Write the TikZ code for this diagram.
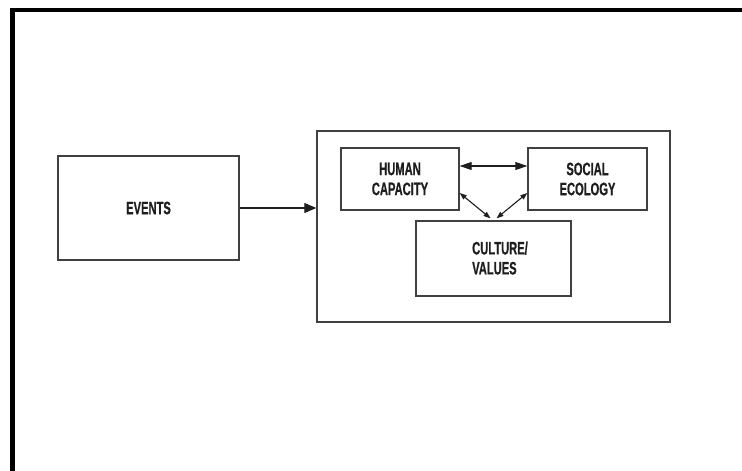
\documentclass[tikz,border=0pt]{standalone}
\usepackage{fontspec}
\newfontfamily\labelfont[FakeStretch=0.62,FakeBold=0.6]{Liberation Sans Bold}
\usetikzlibrary{arrows.meta}
\definecolor{boxline}{HTML}{404040}
\definecolor{ink}{HTML}{1E1E1E}
\tikzset{
  block/.style={draw=boxline, line width=1.4pt, inner sep=0pt, align=center,
    text=ink, font=\labelfont\fontsize{18}{20}\selectfont},
  link/.style={draw=ink, line width=1.1pt},
  bigtip/.style={-{Triangle[length=12pt,width=10pt]}},
  twoway/.style={{Triangle[length=12pt,width=8pt]}-{Triangle[length=12pt,width=8pt]}},
  smalltwoway/.style={{Triangle[length=7pt,width=5pt]}-{Triangle[length=7pt,width=5pt]}}
}
\begin{document}
\begin{tikzpicture}[x=1pt, y=-1pt]
  \clip (0,0) rectangle (742,471);
  \fill[white] (0,0) rectangle (742,471);
  % heavy frame running off the page on the right and bottom
  \draw[line width=4.5pt, black] (12.5,500) -- (12.5,10) -- (760,10);

  % boxes
  \node[block, minimum width=181pt, minimum height=104pt] (events) at (148.5,208) {EVENTS};
  \node[block, minimum width=353pt, minimum height=191pt] (system) at (493.5,226.5) {};
  \node[block, minimum width=118pt, minimum height=62pt] (human) at (400,179) {HUMAN\\CAPACITY};
  \node[block, minimum width=119pt, minimum height=62pt] (social) at (587.5,179) {SOCIAL\\ECOLOGY};
  \node[block, minimum width=155pt, minimum height=75pt] (culture) at (493.5,258.5) {};
  \node[text=ink, font=\labelfont\fontsize{18}{20}\selectfont, align=left, inner sep=0pt]
    (culturetext) at (500,258) {CULTURE/\\VALUES};

  % connectors
  \draw[link, bigtip] (events.east) -- (events.east -| system.west);
  \draw[link, twoway] ([yshift=13pt]human.east) -- ([yshift=13pt]social.west);
  \draw[link, smalltwoway] ([yshift=-14pt]human.east) -- ([xshift=-3pt,yshift=2pt]culture.north);
  \draw[link, smalltwoway] ([yshift=-14pt]social.west) -- ([xshift=3pt,yshift=2pt]culture.north);
\end{tikzpicture}
\end{document}
